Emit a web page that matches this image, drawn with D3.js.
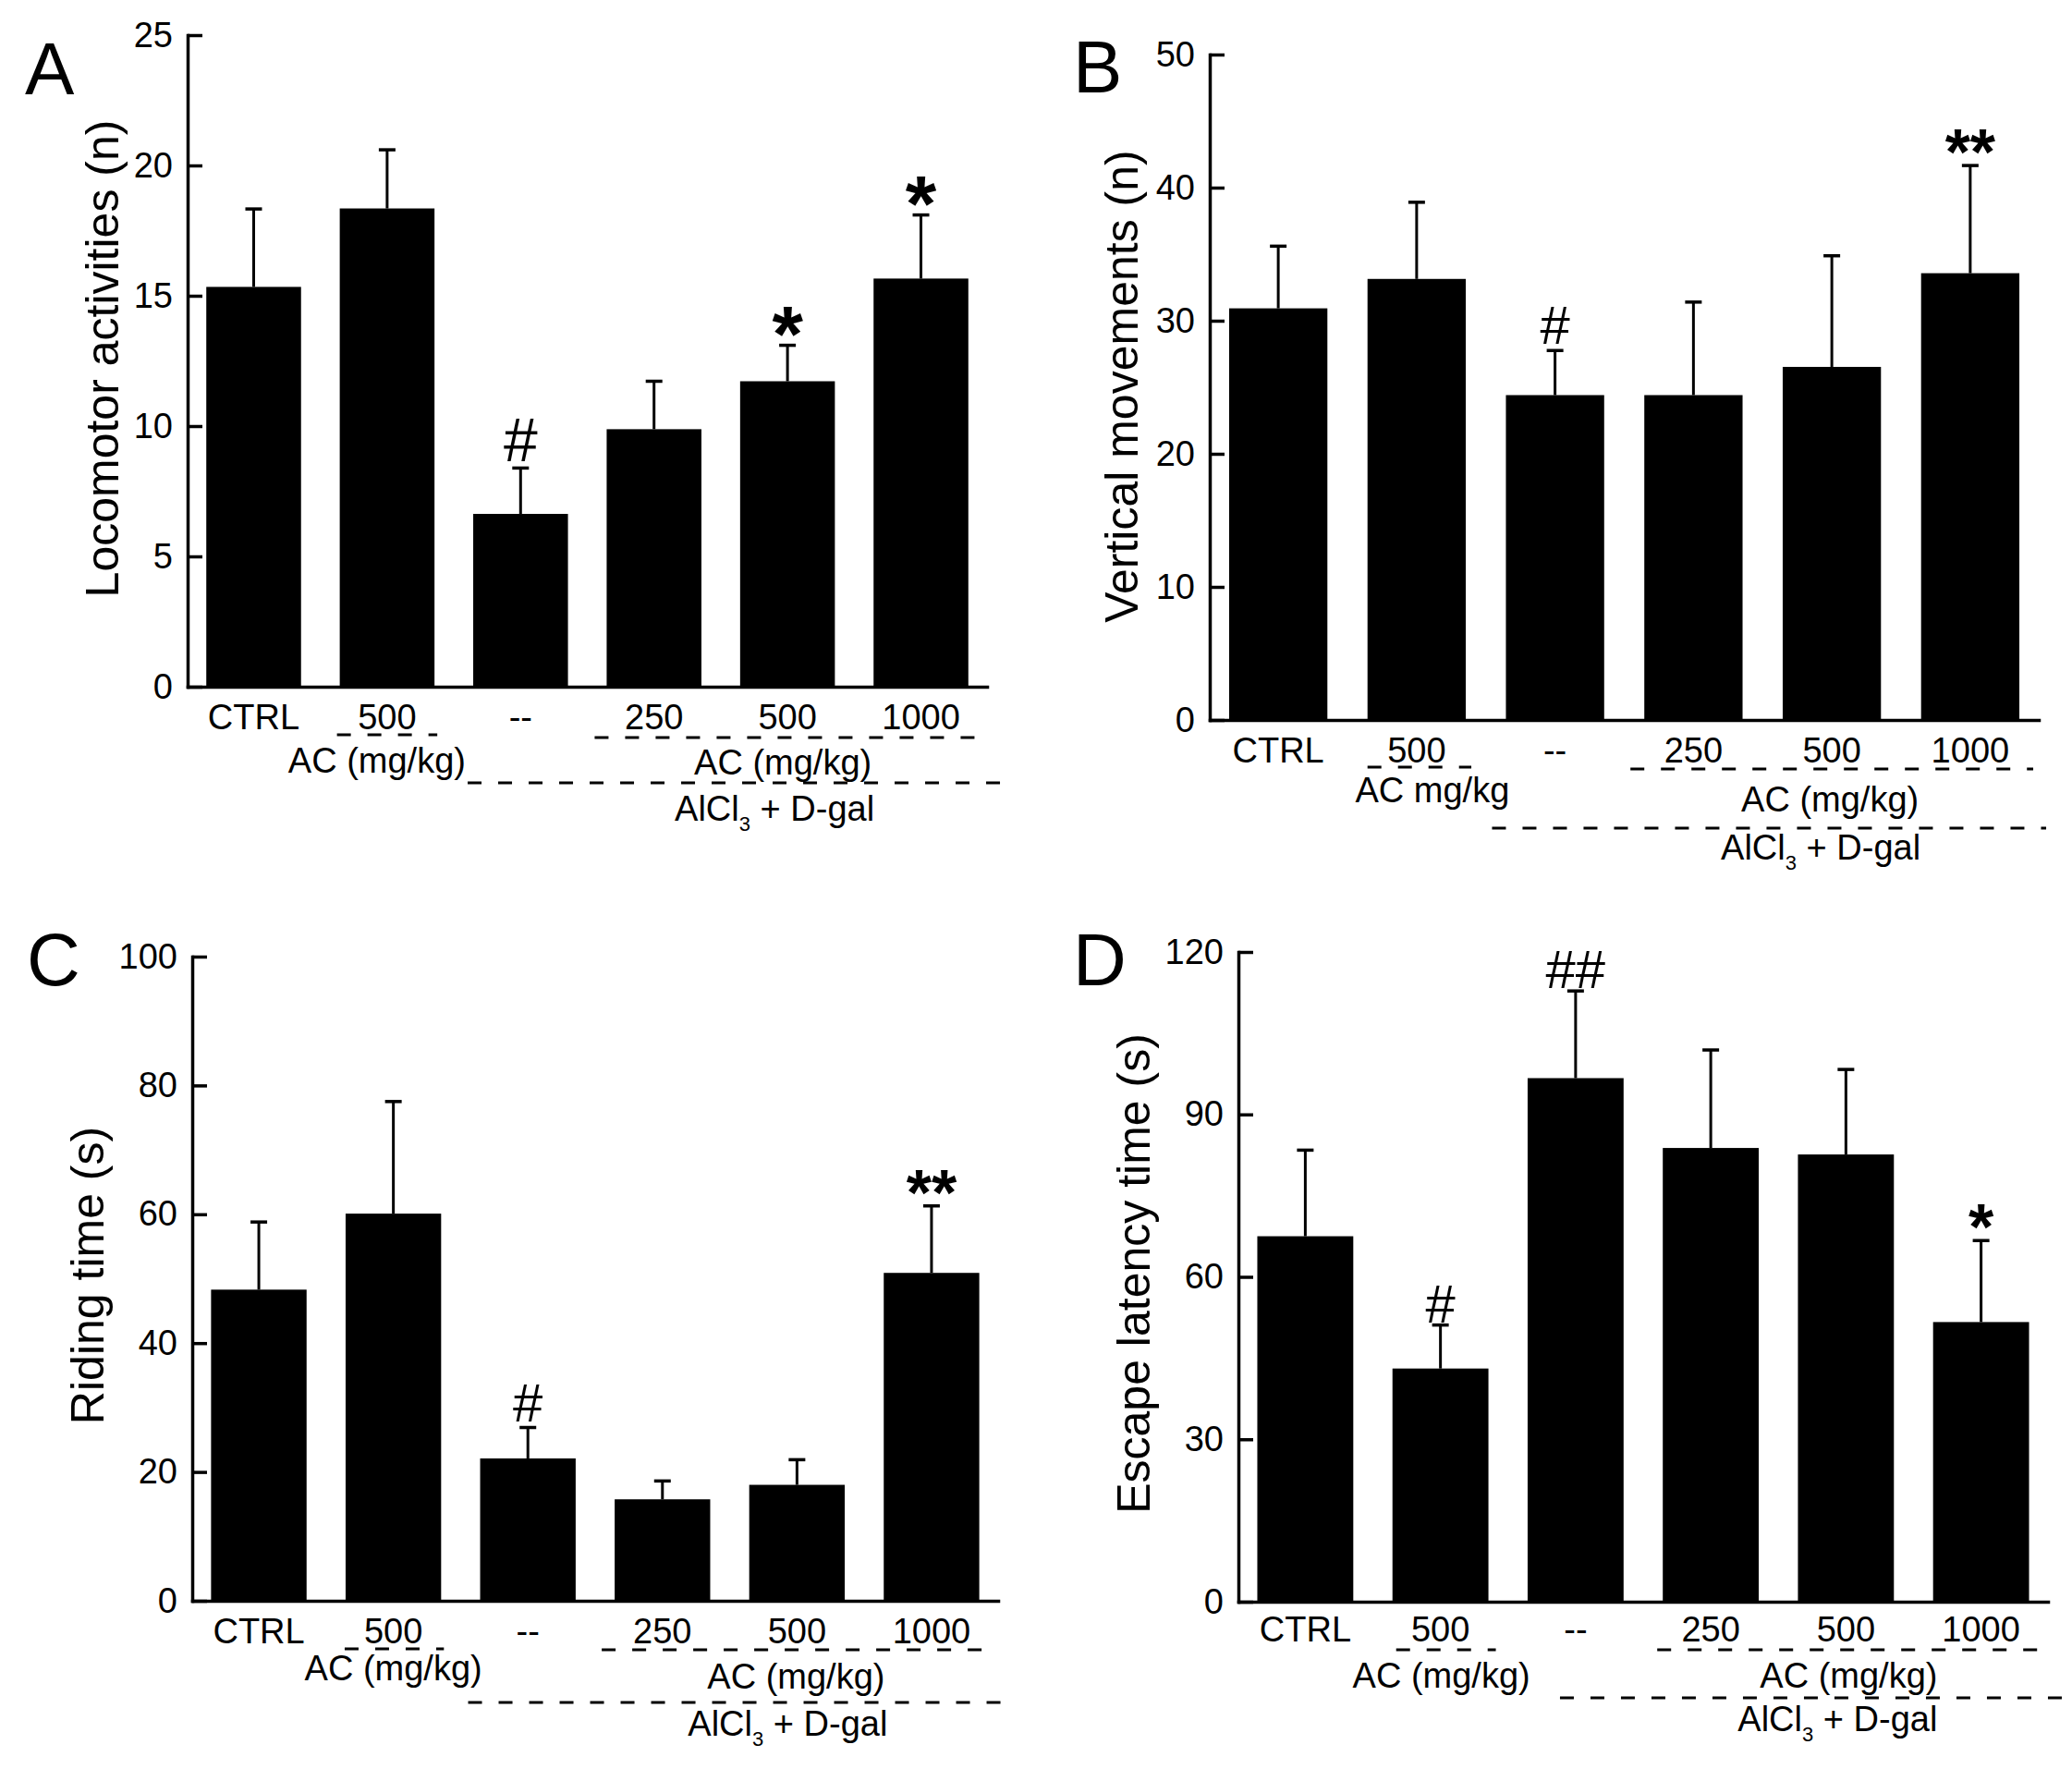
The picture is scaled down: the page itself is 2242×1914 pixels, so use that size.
<!DOCTYPE html>
<html>
<head>
<meta charset="utf-8">
<script src="https://cdn.jsdelivr.net/npm/d3@7"></script>
<style>
  body { margin: 0; background: #fff; }
  svg { display: block; font-family: "Liberation Sans", Arial, sans-serif; }
</style>
</head>
<body>
<div class="figure"></div>
<script>
"use strict"

// groups on the x axis
const groupKeys = ["ctrl", "ac500", "model", "m250", "m500", "m1000"];
const groupLabels = ["CTRL", "500", "--", "250", "500", "1000"];

// A - locomotor activities
const locomotorMean = [15.34, 18.35, 6.63, 9.88, 11.72, 15.66];
const locomotorSem = [2.99, 2.25, 1.76, 1.84, 1.38, 2.44];
const locomotorMarks = ["", "", "#", "", "*", "*"];
const locomotorTicks = [0, 5, 10, 15, 20, 25];

// B - vertical movements
const verticalMean = [30.93, 33.14, 24.41, 24.41, 26.53, 33.57];
const verticalSem = [4.67, 5.76, 3.35, 6.99, 8.35, 8.09];
const verticalMarks = ["", "", "#", "", "", "**"];
const verticalTicks = [0, 10, 20, 30, 40, 50];

// C - riding time
const ridingMean = [48.3, 60.1, 22.1, 15.75, 18.0, 50.9];
const ridingSem = [10.5, 17.4, 4.8, 2.85, 3.9, 10.4];
const ridingMarks = ["", "", "#", "", "", "**"];
const ridingTicks = [0, 20, 40, 60, 80, 100];

// D - escape latency time
const escapeMean = [67.5, 43.07, 96.7, 83.8, 82.6, 51.65];
const escapeSem = [15.9, 8.03, 16.1, 18.1, 15.7, 15.05];
const escapeMarks = ["", "#", "##", "", "", "*"];
const escapeTicks = [0, 30, 60, 90, 120];

const width = 2242,
    height = 1914;

const tickFont = 38,
    titleFont = 50,
    letterFont = 80;

const panels = [
    {
        letter: "A", title: "Locomotor activities (n)", left: "AC (mg/kg)",
        mean: locomotorMean, sem: locomotorSem, marks: locomotorMarks, ticks: locomotorTicks,
        x0: 203, x1: 1068, y0: 743, yTop: 38, hashFont: 66, starFont: 86, hashGap: 7,
        letterPos: [27, 102], titlePos: [111, 388], catPad: 19,
        dash1: [52, -3, 3], dash2: [55, -13, 9], longDash: [104, -6, 35],
        ac1: [93, -11], ac2: [95, -5], alcl: [145, -14]
    },
    {
        letter: "B", title: "Vertical movements (n)", left: "AC mg/kg",
        mean: verticalMean, sem: verticalSem, marks: verticalMarks, ticks: verticalTicks,
        x0: 1309, x1: 2206, y0: 779, yTop: 59, hashFont: 58, starFont: 70, hashGap: 7,
        letterPos: [1161, 100], titlePos: [1214, 418], catPad: 19,
        dash1: [51, 0, 6], dash2: [53, -15, 15], longDash: [117, -15, 29],
        ac1: [89, 17], ac2: [99, -2], alcl: [151, -12]
    },
    {
        letter: "C", title: "Riding time (s)", left: "AC (mg/kg)",
        mean: ridingMean, sem: ridingSem, marks: ridingMarks, ticks: ridingTicks,
        x0: 208, x1: 1080, y0: 1732, yTop: 1035, hashFont: 58, starFont: 70, hashGap: 7,
        letterPos: [29, 1066], titlePos: [95, 1380], catPad: 19,
        dash1: [52, -1, 3], dash2: [53, -14, 13], longDash: [110, -13, 28],
        ac1: [86, 0], ac2: [95, -1], alcl: [146, -10]
    },
    {
        letter: "D", title: "Escape latency time (s)", left: "AC (mg/kg)",
        mean: escapeMean, sem: escapeSem, marks: escapeMarks, ticks: escapeTicks,
        x0: 1340, x1: 2216, y0: 1733, yTop: 1030, hashFont: 58, starFont: 70, hashGap: 3,
        letterPos: [1161, 1066], titlePos: [1227, 1378], catPad: 16,
        dash1: [52, 4, 8], dash2: [52, -6, 24], longDash: [104, 35, 36],
        ac1: [93, 1], ac2: [93, 3], alcl: [140, -9]
    }
];

const svg = d3.select("div.figure").append("svg")
    .attr("width", width)
    .attr("height", height)
    .attr("viewBox", [0, 0, width, height]);

svg.append("rect")
    .attr("width", width)
    .attr("height", height)
    .attr("fill", "#fff");

function dashLine(g, xa, xb, yy) {
    g.append("line")
        .attr("x1", xa)
        .attr("x2", xb)
        .attr("y1", yy)
        .attr("y2", yy)
        .attr("stroke", "#000")
        .attr("stroke-width", 3)
        .attr("stroke-dasharray", "15,18");
}

function drawPanel(p) {
    const g = svg.append("g").attr("class", "panel");

    const x = d3.scaleBand()
        .domain(groupKeys)
        .range([p.x0, p.x1])
        .paddingInner(0.29)
        .paddingOuter(0.14);

    const y = d3.scaleLinear()
        .domain([0, d3.max(p.ticks)])
        .range([p.y0, p.yTop]);

    const rows = groupKeys.map((k, i) => ({key: k, mean: p.mean[i], sem: p.sem[i], mark: p.marks[i]}));
    const cx = d => x(d.key) + x.bandwidth() / 2;

    // bars
    g.selectAll("rect.bar")
        .data(rows)
        .join("rect")
        .attr("class", "bar")
        .attr("x", d => x(d.key))
        .attr("y", d => y(d.mean))
        .attr("width", x.bandwidth())
        .attr("height", d => y(0) - y(d.mean))
        .attr("fill", "#000");

    // error bars, upper half only
    g.selectAll("line.err")
        .data(rows)
        .join("line")
        .attr("class", "err")
        .attr("x1", cx)
        .attr("x2", cx)
        .attr("y1", d => y(d.mean))
        .attr("y2", d => y(d.mean + d.sem))
        .attr("stroke", "#000")
        .attr("stroke-width", 3);

    g.selectAll("line.cap")
        .data(rows)
        .join("line")
        .attr("class", "cap")
        .attr("x1", d => cx(d) - 9)
        .attr("x2", d => cx(d) + 9)
        .attr("y1", d => y(d.mean + d.sem))
        .attr("y2", d => y(d.mean + d.sem))
        .attr("stroke", "#000")
        .attr("stroke-width", 3.5);

    // significance marks: stars centred ~23px over the cap, hashes sit on it
    const isStar = d => d.mark[0] === "*";
    g.selectAll("text.mark")
        .data(rows.filter(d => d.mark !== ""))
        .join("text")
        .attr("class", "mark")
        .attr("x", cx)
        .attr("y", d => isStar(d)
            ? y(d.mean + d.sem) - 23 + 0.47 * p.starFont
            : y(d.mean + d.sem) - p.hashGap)
        .attr("text-anchor", "middle")
        .attr("font-size", d => isStar(d) ? p.starFont : p.hashFont)
        .attr("font-weight", d => isStar(d) ? "bold" : "normal")
        .text(d => d.mark);

    // y axis, ticks point inward
    const yAxis = d3.axisLeft(y)
        .tickValues(p.ticks)
        .tickSizeInner(-16)
        .tickSizeOuter(0)
        .tickPadding(16);

    const ya = g.append("g")
        .attr("transform", "translate(" + p.x0 + ",0)")
        .call(yAxis);
    ya.attr("font-size", tickFont).attr("font-family", null);
    ya.selectAll("line").attr("stroke-width", 3.5);
    ya.select(".domain").attr("stroke-width", 3.5).attr("stroke-linecap", "square");

    // x axis with the group labels
    const xAxis = d3.axisBottom(x)
        .tickFormat((k, i) => groupLabels[i])
        .tickSize(0)
        .tickPadding(p.catPad);

    const xa = g.append("g")
        .attr("transform", "translate(0," + p.y0 + ")")
        .call(xAxis);
    xa.attr("font-size", tickFont).attr("font-family", null);
    xa.select(".domain").attr("stroke-width", 3.5).attr("stroke-linecap", "square");

    // group brackets under the labels
    const b2 = x("ac500"), b3 = x("model"), b4 = x("m250"), b6 = x("m1000");
    const bw = x.bandwidth();
    dashLine(g, b2 + p.dash1[1], b2 + bw + p.dash1[2], p.y0 + p.dash1[0]);
    dashLine(g, b4 + p.dash2[1], b6 + bw + p.dash2[2], p.y0 + p.dash2[0]);
    dashLine(g, b3 + p.longDash[1], b6 + bw + p.longDash[2], p.y0 + p.longDash[0]);

    g.append("text")
        .attr("x", b2 + bw / 2 + p.ac1[1])
        .attr("y", p.y0 + p.ac1[0])
        .attr("text-anchor", "middle")
        .attr("font-size", tickFont)
        .text(p.left);

    const c5 = x("m500") + bw / 2;
    g.append("text")
        .attr("x", c5 + p.ac2[1])
        .attr("y", p.y0 + p.ac2[0])
        .attr("text-anchor", "middle")
        .attr("font-size", tickFont)
        .text("AC (mg/kg)");

    const alcl = g.append("text")
        .attr("x", c5 + p.alcl[1])
        .attr("y", p.y0 + p.alcl[0])
        .attr("text-anchor", "middle")
        .attr("font-size", tickFont);
    alcl.append("tspan").text("AlCl");
    alcl.append("tspan").attr("font-size", 22).attr("dy", 11).text("3");
    alcl.append("tspan").attr("dy", -11).text(" + D-gal");

    // axis title
    g.append("text")
        .attr("transform", "translate(" + p.titlePos[0] + "," + p.titlePos[1] + ") rotate(-90)")
        .attr("text-anchor", "middle")
        .attr("dominant-baseline", "central")
        .attr("font-size", titleFont)
        .text(p.title);

    // panel letter
    g.append("text")
        .attr("x", p.letterPos[0])
        .attr("y", p.letterPos[1])
        .attr("font-size", letterFont)
        .text(p.letter);
}

panels.forEach(drawPanel);
</script>
</body>
</html>
